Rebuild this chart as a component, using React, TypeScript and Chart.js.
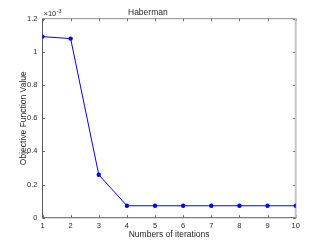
import React, { useEffect, useRef } from "react";
import { Chart, registerables } from "chart.js";

Chart.register(...registerables);

// Data (values shown in units of 10^-3)
const iterations = [1, 2, 3, 4, 5, 6, 7, 8, 9, 10];
const objectiveValues = [1.092, 1.08, 0.259, 0.072, 0.072, 0.072, 0.072, 0.072, 0.072, 0.072];
const yTickValues = [0, 0.2, 0.4, 0.6, 0.8, 1, 1.2];
const xTickValues = [1, 2, 3, 4, 5, 6, 7, 8, 9, 10];
const titleText = "Haberman";
const xLabel = "Numbers of iterations";
const yLabel = "Objective Function Value";
const exponentBase = "\u00d710";
const exponentPower = "-3";

const FONT = "'Liberation Sans', Arial, Helvetica, sans-serif";
const TEXT = "#262626";

const boxPlugin = {
  id: "matlabBox",
  beforeDatasetsDraw(chart: any) {
    const { ctx, chartArea, scales } = chart;
    const { left, right, top, bottom } = chartArea;
    const xs = scales.x;
    const ys = scales.y;
    ctx.save();
    ctx.lineWidth = 1;
    ctx.strokeStyle = "#666";
    const tl = 2.5;
    xTickValues.forEach((v) => {
      const px = Math.round(xs.getPixelForValue(v)) + 0.5;
      ctx.beginPath();
      ctx.moveTo(px, bottom);
      ctx.lineTo(px, bottom - tl);
      ctx.moveTo(px, top);
      ctx.lineTo(px, top + tl);
      ctx.stroke();
    });
    yTickValues.forEach((v) => {
      const py = Math.round(ys.getPixelForValue(v)) + 0.5;
      ctx.beginPath();
      ctx.moveTo(left, py);
      ctx.lineTo(left + tl, py);
      ctx.moveTo(right, py);
      ctx.lineTo(right - tl, py);
      ctx.stroke();
    });
    ctx.strokeStyle = "#8a8a8a";
    ctx.beginPath();
    ctx.moveTo(left, top);
    ctx.lineTo(right, top);
    ctx.stroke();
    ctx.strokeStyle = "#c4c4c4";
    ctx.lineWidth = 2;
    ctx.beginPath();
    ctx.moveTo(right, top);
    ctx.lineTo(right, bottom);
    ctx.stroke();
    ctx.strokeStyle = "#5a5a5a";
    ctx.lineWidth = 1;
    ctx.beginPath();
    ctx.moveTo(left, top);
    ctx.lineTo(left, bottom);
    ctx.lineTo(right, bottom);
    ctx.stroke();
    ctx.fillStyle = TEXT;
    ctx.textBaseline = "alphabetic";
    ctx.textAlign = "left";
    ctx.font = `7.5px ${FONT}`;
    const bx = left + 1;
    const by = top - 2.5;
    ctx.fillText(exponentBase, bx, by);
    const w = ctx.measureText(exponentBase).width;
    ctx.font = `5.5px ${FONT}`;
    ctx.fillText(exponentPower, bx + w + 0.5, by - 3.5);
    ctx.restore();
  },
};

export default function App() {
  const ref = useRef<HTMLCanvasElement | null>(null);
  useEffect(() => {
    if (!ref.current) return;
    const chart = new Chart(ref.current, {
      type: "line",
      data: {
        datasets: [
          {
            data: iterations.map((x, i) => ({ x, y: objectiveValues[i] })),
            borderColor: "#0000ff",
            backgroundColor: "#0000ff",
            borderWidth: 1,
            pointRadius: 2.2,
            pointBorderWidth: 0,
            pointBackgroundColor: "#0000ff",
            fill: false,
            tension: 0,
          },
        ],
      },
      plugins: [boxPlugin],
      options: {
        animation: false,
        responsive: true,
        maintainAspectRatio: false,
        layout: { padding: { left: 0, right: 31.3, top: 0, bottom: 0 } },
        plugins: {
          legend: { display: false },
          tooltip: { enabled: false },
          title: {
            display: true,
            text: titleText,
            color: TEXT,
            font: { family: FONT, size: 8.5, weight: "normal" },
            padding: { top: 7.5, bottom: 1 },
          },
        },
        scales: {
          x: {
            type: "linear",
            min: 1,
            max: 10,
            afterBuildTicks: (s: any) => {
              s.ticks = xTickValues.map((v) => ({ value: v }));
            },
            afterFit: (s: any) => {
              s.height = 27.3;
            },
            grid: { display: false, drawTicks: false },
            border: { display: false },
            ticks: {
              color: TEXT,
              font: { family: FONT, size: 7.5 },
              padding: 4,
              maxRotation: 0,
              autoSkip: false,
            },
            title: {
              display: true,
              text: xLabel,
              color: TEXT,
              font: { family: FONT, size: 8.5 },
              padding: { top: 0, bottom: 5 },
            },
          },
          y: {
            type: "linear",
            min: 0,
            max: 1.2,
            afterBuildTicks: (s: any) => {
              s.ticks = yTickValues.map((v) => ({ value: v }));
            },
            afterFit: (s: any) => {
              s.width = 42.5;
            },
            grid: { display: false, drawTicks: false },
            border: { display: false },
            ticks: {
              color: TEXT,
              font: { family: FONT, size: 7.5 },
              padding: 5,
              callback: (v: any) => String(Math.round(Number(v) * 10) / 10),
            },
            title: {
              display: true,
              text: yLabel,
              color: TEXT,
              font: { family: FONT, size: 8.5 },
              padding: { top: 18.5, bottom: 0 },
            },
          },
        },
      },
    } as any);
    return () => chart.destroy();
  }, []);
  return (
    <div style={{ position: "absolute", left: 0, top: 0, width: 327, height: 245, background: "#fff" }}>
      <canvas ref={ref} />
    </div>
  );
}
